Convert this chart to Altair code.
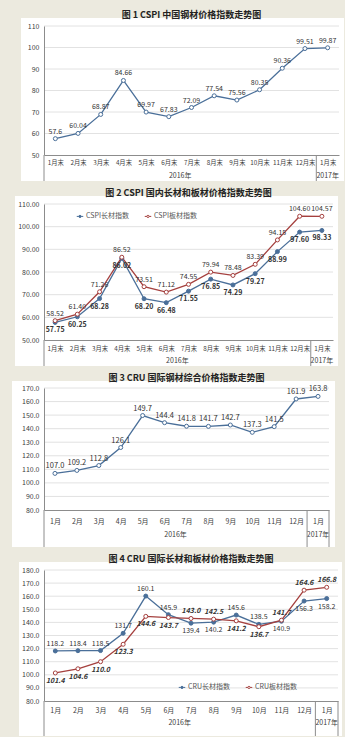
import altair as alt
import pandas as pd

FONT = "Noto Sans CJK SC"
BG = "#ECEADF"
BLUE = "#4A6F99"
RED = "#A5403E"
GRID = "#DADADA"
AXIS = "#8C8C8C"
TXT = "#333333"

# ---------------- data ----------------
years13 = ["2016年"] * 12 + ["2017年"]

c1_title = "图 1 CSPI 中国钢材价格指数走势图"
c1_months = ["1月末", "2月末", "3月末", "4月末", "5月末", "6月末", "7月末",
             "8月末", "9月末", "10月末", "11月末", "12月末", "1月末"]
c1_cspi = [57.6, 60.04, 68.87, 84.66, 69.97, 67.83, 72.09, 77.54, 75.56, 80.35,
           90.36, 99.51, 99.87]

c2_title = "图 2 CSPI 国内长材和板材价格指数走势图"
c2_months = c1_months
c2_names = ["CSPI长材指数", "CSPI板材指数"]
c2_long = [57.75, 60.25, 68.28, 86.02, 68.20, 66.48, 71.55, 76.85, 74.29, 79.27,
           88.99, 97.60, 98.33]
c2_plate = [58.52, 61.40, 71.26, 86.52, 73.51, 71.12, 74.55, 79.94, 78.48, 83.39,
            94.15, 104.60, 104.57]

c3_title = "图 3 CRU 国际钢材综合价格指数走势图"
c3_months = ["1月", "2月", "3月", "4月", "5月", "6月", "7月", "8月", "9月",
             "10月", "11月", "12月", "1月"]
c3_cru = [107.0, 109.2, 112.8, 126.1, 149.7, 144.4, 141.8, 141.7, 142.7, 137.3,
          141.5, 161.9, 163.8]

c4_title = "图 4 CRU 国际长材和板材价格指数走势图"
c4_months = c3_months
c4_names = ["CRU长材指数", "CRU板材指数"]
c4_long = [118.2, 118.4, 118.5, 131.7, 160.1, 145.9, 139.4, 140.2, 145.6, 138.5,
           140.9, 156.3, 158.2]
c4_plate = [101.4, 104.6, 110.0, 123.3, 144.6, 143.7, 143.0, 142.5, 141.2, 136.7,
            141.7, 164.6, 166.8]

LEG_SYMBOL = ("M-1,0H-0.36M0.36,0H1M0.36,0A0.36,0.36 0 1,1 -0.36,0"
              "A0.36,0.36 0 1,1 0.36,0Z")


def panel(title, months, series, fmt, ydom, ystep, yfmt, W, H, ext,
          lab_pad, year_dy, right_line, legend_xy=None, lab_size=7, mon_size=7):
    left, right, top, bottom = ext
    n = len(months)
    rows = []
    for s in series:
        for i, v in enumerate(s["values"]):
            rows.append({"idx": i + 1, "year": years13[i],
                         "series": s["name"], "value": v})
    df = pd.DataFrame(rows)
    base = alt.Chart(df)

    xscale = alt.Scale(domain=[0.5, n + 0.5], nice=False, zero=False)
    yscale = alt.Scale(domain=list(ydom), nice=False, zero=False)
    label_expr = "[" + ",".join("'%s'" % m for m in months) + "][datum.value - 1]"
    xaxis = alt.Axis(values=list(range(1, n + 1)), labelExpr=label_expr,
                     grid=False, ticks=False, domain=True, domainColor=AXIS,
                     labelFont=FONT, labelFontSize=mon_size, labelColor="#404040",
                     labelPadding=lab_pad, labelAngle=0, title=None, zindex=1,
                     labelFlush=False, labelOverlap=False)
    yticks = list(range(ydom[0], ydom[1] + 1, ystep))
    yaxis = alt.Axis(values=yticks, format=yfmt, grid=False, ticks=False,
                     domain=True, domainColor=AXIS, labelFont=FONT,
                     labelFontSize=7, labelColor="#404040", labelPadding=5,
                     title=None, zindex=1)

    X = alt.X("idx:Q", scale=xscale, axis=xaxis)
    Y = alt.Y("value:Q", scale=yscale, axis=yaxis)

    bg = alt.Chart(alt.Data(values=[{"a": 1}])).mark_rect(fill="white").encode(
        x=alt.value(-left), x2=alt.value(W + right),
        y=alt.value(-top), y2=alt.value(H + bottom))

    grid = alt.Chart(pd.DataFrame({"t": yticks[1:]})).mark_rule(
        color=GRID, strokeWidth=0.8).encode(
        y=alt.Y("t:Q", scale=yscale, axis=yaxis),
        x=alt.value(0), x2=alt.value(W))

    names = [s["name"] for s in series]
    if len(series) == 1:
        stroke = alt.value(series[0]["color"])
        fill = alt.value(series[0]["fill"])
        extra = {}
    else:
        leg = alt.Legend(orient="none", legendX=legend_xy[0], legendY=legend_xy[1],
                         direction="horizontal", title=None, symbolType=LEG_SYMBOL,
                         symbolSize=42, symbolStrokeWidth=1, labelFont=FONT,
                         labelFontSize=7, labelColor="#555555", columnPadding=13,
                         labelOffset=2, padding=0)
        stroke = alt.Stroke("series:N", scale=alt.Scale(
            domain=names, range=[s["color"] for s in series]), legend=leg)
        fill = alt.Fill("series:N", scale=alt.Scale(
            domain=names, range=[s["fill"] for s in series]), legend=leg)
        extra = {"detail": alt.Detail("series:N")}

    line = base.mark_line(strokeWidth=1.3).encode(x=X, y=Y, stroke=stroke, **extra)

    pts = base.mark_point(filled=True, opacity=1, strokeWidth=1, size=16,
                          shape="circle").encode(x=X, y=Y, stroke=stroke, fill=fill)

    texts = []
    for s in series:
        for is_top in (True, False):
            cond = "datum.value >= datum.maxv" if is_top else "datum.value < datum.maxv"
            t = base.transform_joinaggregate(
                maxv="max(value)", groupby=["idx"]
            ).transform_filter(
                "datum.series == '%s' && %s" % (s["name"], cond)
            ).mark_text(
                dy=-7 if is_top else 8, fontSize=lab_size, font=FONT,
                fontWeight=s.get("weight", "normal"),
                fontStyle=s.get("style", "normal"), color=TXT
            ).encode(x=X, y=Y, text=alt.Text("value:Q", format=fmt))
            texts.append(t)

    first = series[0]["name"]
    years_layer = base.transform_filter("datum.series == '%s'" % first).transform_aggregate(
        c="mean(idx)", groupby=["year"]
    ).mark_text(fontSize=7, font=FONT, color="#404040", baseline="middle").encode(
        x=alt.X("c:Q", scale=xscale, axis=xaxis), y=alt.value(H + year_dy),
        text="year:N")

    seps = [i + 0.5 for i in range(n) if i == 0 or years13[i] != years13[i - 1]]
    if right_line:
        seps.append(n + 0.5)
    sep_layer = alt.Chart(pd.DataFrame({"b": seps})).mark_rule(
        color=AXIS, strokeWidth=1).encode(
        x=alt.X("b:Q", scale=xscale, axis=xaxis),
        y=alt.value(H), y2=alt.value(H + bottom))

    return alt.layer(bg, grid, line, pts, *texts, years_layer, sep_layer).properties(
        width=W, height=H,
        title=alt.TitleParams(title, font=FONT, fontSize=9, fontWeight="bold",
                              color="#222222", anchor="middle", offset=-2))


ch1 = panel(c1_title, c1_months,
            [{"name": "CSPI", "values": c1_cspi, "color": BLUE, "fill": "white"}],
            "", (50, 110), 10, "d", 295, 129, (23, 5, 8, 26), 4, 21, False,
            mon_size=6.3)

ch2 = panel(c2_title, c2_months,
            [{"name": c2_names[0], "values": c2_long, "color": BLUE, "fill": BLUE,
              "weight": "bold"},
             {"name": c2_names[1], "values": c2_plate, "color": RED, "fill": "white"}],
            ".2f", (50, 110), 10, ".2f", 289, 136, (29, 5, 8, 26), 5, 21, False,
            legend_xy=(32, 8), mon_size=6.3)

ch3 = panel(c3_title, c3_months,
            [{"name": "CRU", "values": c3_cru, "color": BLUE, "fill": "white"}],
            ".1f", (80, 170), 10, ".1f", 285, 122, (32, 6, 7, 37), 7, 25, True,
            lab_size=7.5)

ch4 = panel(c4_title, c4_months,
            [{"name": c4_names[0], "values": c4_long, "color": BLUE, "fill": BLUE},
             {"name": c4_names[1], "values": c4_plate, "color": RED, "fill": "white",
              "weight": "bold", "style": "italic"}],
            ".1f", (80, 180), 10, ".1f", 294, 131, (25, 4, 8, 35), 5, 22, True,
            legend_xy=(134, 113))

chart = alt.vconcat(ch1, ch2, ch3, ch4, spacing=6).resolve_scale(
    stroke="independent", fill="independent"
).properties(
    background=BG, padding={"left": 11, "top": 10, "right": 0, "bottom": 0}
).configure_view(stroke="transparent")

chart.save("out.html", embed_options={"renderer": "svg", "actions": False})
